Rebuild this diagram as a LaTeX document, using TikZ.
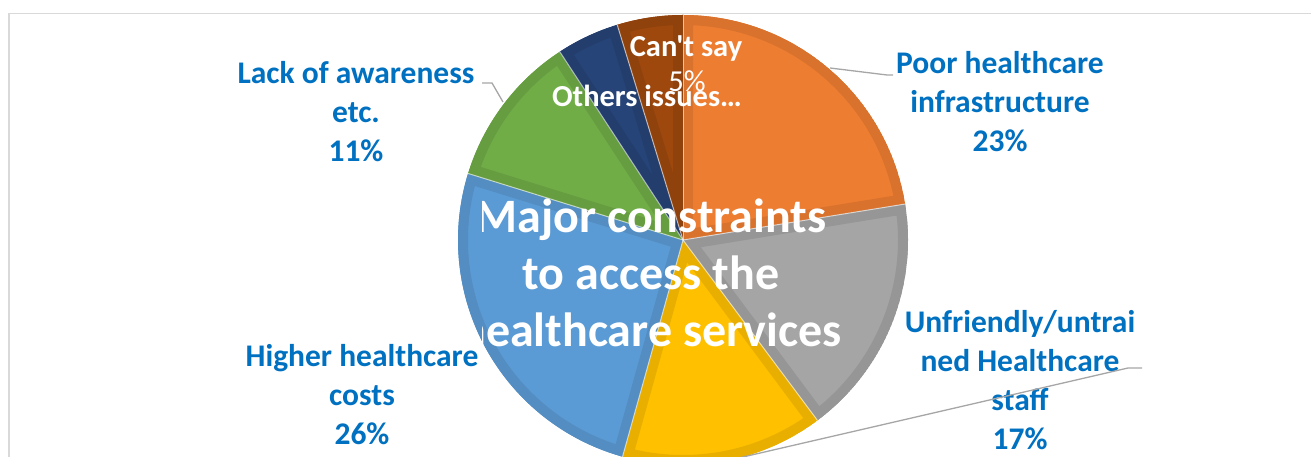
\documentclass[tikz,border=0pt]{standalone}
\usepackage{fontspec}
\setmainfont{Carlito}[Ligatures=TeXOff]
\definecolor{poorc}{HTML}{ED7D31}
\definecolor{staffc}{HTML}{A5A5A5}
\definecolor{yellc}{HTML}{FFC000}
\definecolor{costc}{HTML}{5B9BD5}
\definecolor{lackc}{HTML}{70AD47}
\definecolor{othc}{HTML}{264478}
\definecolor{sayc}{HTML}{9E480E}
\definecolor{labelblue}{HTML}{0070C0}
\definecolor{leadergray}{HTML}{A6A6A6}
\definecolor{framegray}{HTML}{D9D9D9}
\tikzset{
  lbl/.style={text=labelblue, font=\bfseries\fontsize{31.5}{39}\selectfont, align=center, inner sep=0pt, anchor=base},
  inlbl/.style={text=white, font=\bfseries\fontsize{30.5}{35}\selectfont, inner sep=0pt, anchor=base},
  title/.style={text=white, font=\bfseries\fontsize{48}{57}\selectfont, align=center, inner sep=0pt, anchor=base},
  leader/.style={draw=leadergray, line width=1.3pt},
}
\begin{document}
\begin{tikzpicture}[x=1pt,y=1pt]
\useasboundingbox (0,0) rectangle (1311,457);
\clip (0,0) rectangle (1311,457);
\draw[framegray, line width=1.5pt] (9,0) -- (9,443.5) -- (1311,443.5);
\coordinate (C) at (683,217);
\foreach \a/\b/\c in {9.2/90/poorc, -53.3/9.2/staffc, -105.6/-53.3/yellc, 162.8/254.4/costc, 123.2/162.8/lackc, 107/123.2/othc, 90/107/sayc} {
  \begin{scope}
    \clip (C) -- ++(\a:225pt) arc[start angle=\a, end angle=\b, radius=225pt] -- cycle;
    \fill[\c] (C) -- ++(\a:225pt) arc[start angle=\a, end angle=\b, radius=225pt] -- cycle;
    \draw[\c!91!black, line width=20pt] (C) -- ++(\a:225pt) arc[start angle=\a, end angle=\b, radius=225pt] -- cycle;
  \end{scope}
}
\foreach \a in {9.2, -53.3, -105.6, 162.8, 123.2, 107, 90}
  \draw[white, opacity=0.6, line width=1pt] (C) -- ++(\a:225pt);

\node[lbl] (poor) at (1000,305) {Poor healthcare\\infrastructure\\23\%};
\node[lbl] (staff) at (1020,7) {Unfriendly/untrai\\ned Healthcare\\staff\\17\%};
\node[lbl] (cost) at (362,12) {Higher healthcare\\costs\\26\%};
\node[lbl] (lack) at (356,295) {Lack of awareness\\etc.\\11\%};
\node[inlbl] (say) at (686,400) {Can't say};
\node[inlbl, font=\fontsize{30.5}{35}\selectfont] (sayp) at (687,365) {5\%};
\node[inlbl] (oth) at (647,350) {Others issues…};
\begin{scope}
  \clip (482,0) rectangle (1311,457);
  \node[title] (ttl) at (651,110) {Major constraints\\to access the\\healthcare services};
\end{scope}

\coordinate (poorin) at (830,389);
\coordinate (poorbend) at (887,382);
\coordinate (poorend) at (893,382);
\coordinate (lackin) at (503,355);
\coordinate (lackbend) at (492,374);
\coordinate (lackend) at (482,374);
\coordinate (yellin) at ([shift={(-78.5:225pt)}]C);
\coordinate (yellbend) at (1128,89);
\coordinate (yellend) at (1142,89);
\draw[leader] (poorin) -- (poorbend) -- (poorend);
\draw[leader] (lackin) -- (lackbend) -- (lackend);
\draw[leader] (yellin) -- (yellbend) -- (yellend);
\end{tikzpicture}
\end{document}
